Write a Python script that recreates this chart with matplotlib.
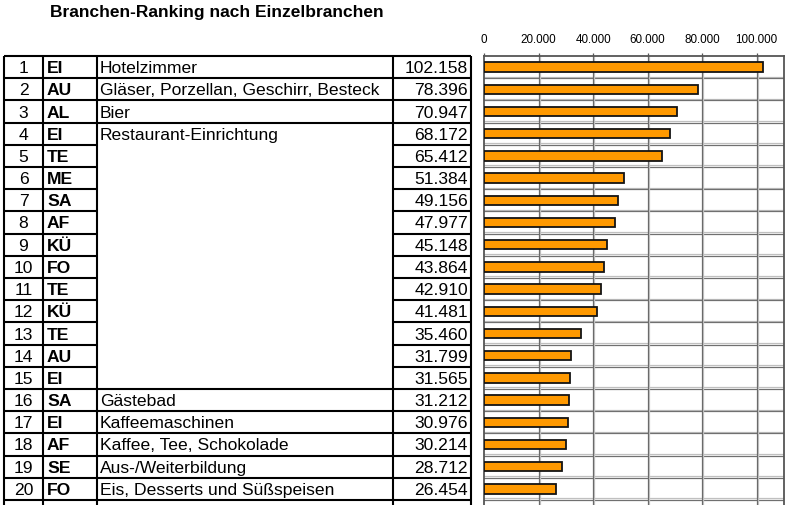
import matplotlib
matplotlib.use("Agg")
import matplotlib.pyplot as plt
import matplotlib.transforms as mtrans

plt.rcParams['font.family'] = ['Liberation Sans', 'DejaVu Sans']

title = "Branchen-Ranking nach Einzelbranchen"
ranks = list(range(1, 21))
codes = ["EI", "AU", "AL", "EI", "TE", "ME", "SA", "AF", "KÜ", "FO",
         "TE", "KÜ", "TE", "AU", "EI", "SA", "EI", "AF", "SE", "FO"]
names = ["Hotelzimmer", "Gläser, Porzellan, Geschirr, Besteck", "Bier",
         "Restaurant-Einrichtung", "", "", "", "", "", "", "", "", "", "", "",
         "Gästebad", "Kaffeemaschinen", "Kaffee, Tee, Schokolade",
         "Aus-/Weiterbildung", "Eis, Desserts und Süßspeisen"]
values = [102158, 78396, 70947, 68172, 65412, 51384, 49156, 47977, 45148, 43864,
          42910, 41481, 35460, 31799, 31565, 31212, 30976, 30214, 28712, 26454]
xticks = [0, 20000, 40000, 60000, 80000, 100000]

def de(v):
    return f"{v:,}".replace(",", ".")

W, H = 786, 506
fig = plt.figure(figsize=(W / 100, H / 100), dpi=100)
fig.patch.set_facecolor("white")

# background axes in pixel coordinates (table)
bg = fig.add_axes([0, 0, 1, 1])
bg.set_xlim(0, W)
bg.set_ylim(H, 0)
bg.axis("off")

TOP = 57.0
RH = 22.2
xs = [4, 43, 97, 393, 471]
n = len(ranks)

bg.text(50, 12, title, fontsize=12.5, fontweight="bold", ha="left", va="center")

lw = 1.5
for k in range(n + 1):
    y = TOP + RH * k
    if 4 <= k <= 14:
        bg.plot([xs[0], xs[2]], [y, y], color="black", lw=lw, solid_capstyle="butt")
        bg.plot([xs[3], xs[4]], [y, y], color="black", lw=lw, solid_capstyle="butt")
    else:
        bg.plot([xs[0], xs[4]], [y, y], color="black", lw=lw, solid_capstyle="butt")
for x in xs:
    bg.plot([x, x], [TOP, H + 2], color="black", lw=lw, solid_capstyle="butt")

fs = 12.6
for i in range(n):
    yc = TOP + RH * (i + 0.5) + 0.5
    bg.text(23.5, yc, str(ranks[i]), fontsize=fs, ha="center", va="center")
    bg.text(47, yc, codes[i], fontsize=fs, fontweight="bold", ha="left", va="center")
    if names[i]:
        bg.text(100, yc, names[i], fontsize=fs, ha="left", va="center")
    bg.text(468, yc, de(values[i]), fontsize=fs, ha="right", va="center")

# bar chart axes
x0, x1 = 484, 784
ax = fig.add_axes([x0 / W, 0, (x1 - x0) / W, (H - TOP) / H])
ax.set_xlim(0, 110000)
ax.set_ylim(0.5 + (H - TOP) / RH, 0.5)
ax.set_facecolor("white")

off = mtrans.ScaledTranslation(0, 1.5 / 100, fig.dpi_scale_trans)
ytr = ax.get_yaxis_transform()
for k in range(1, n + 2):
    ax.plot([0, 1], [k + 0.5, k + 0.5], color="#c0c0c0", lw=0.9, transform=ytr + off, zorder=1)
    ax.plot([0, 1], [k + 0.5, k + 0.5], color="#707070", lw=0.9, transform=ytr, zorder=1)
offx = mtrans.ScaledTranslation(1.2 / 100, 0, fig.dpi_scale_trans)
xtr = ax.get_xaxis_transform()
for t in xticks[1:]:
    ax.plot([t, t], [0, 1], color="#c8c8c8", lw=0.9, transform=xtr + offx, zorder=1)
    ax.plot([t, t], [0, 1], color="#6a6a6a", lw=0.9, transform=xtr, zorder=1)

ax.barh(ranks, values, height=0.42, color="#FF9900", edgecolor="#141414", lw=1.3, zorder=3)

for s in ["top", "left", "right"]:
    ax.spines[s].set_color("#555555")
    ax.spines[s].set_linewidth(1.3)
ax.spines["bottom"].set_visible(False)
ax.xaxis.tick_top()
ax.set_xticks(xticks)
ax.set_xticklabels([de(t) for t in xticks], fontsize=8.4)
ax.tick_params(axis="x", direction="out", length=2.5, width=0.9, colors="#555555", labelcolor="black", pad=5.5)
ax.set_yticks([])

fig.savefig("out.png", dpi=100, facecolor="white")
